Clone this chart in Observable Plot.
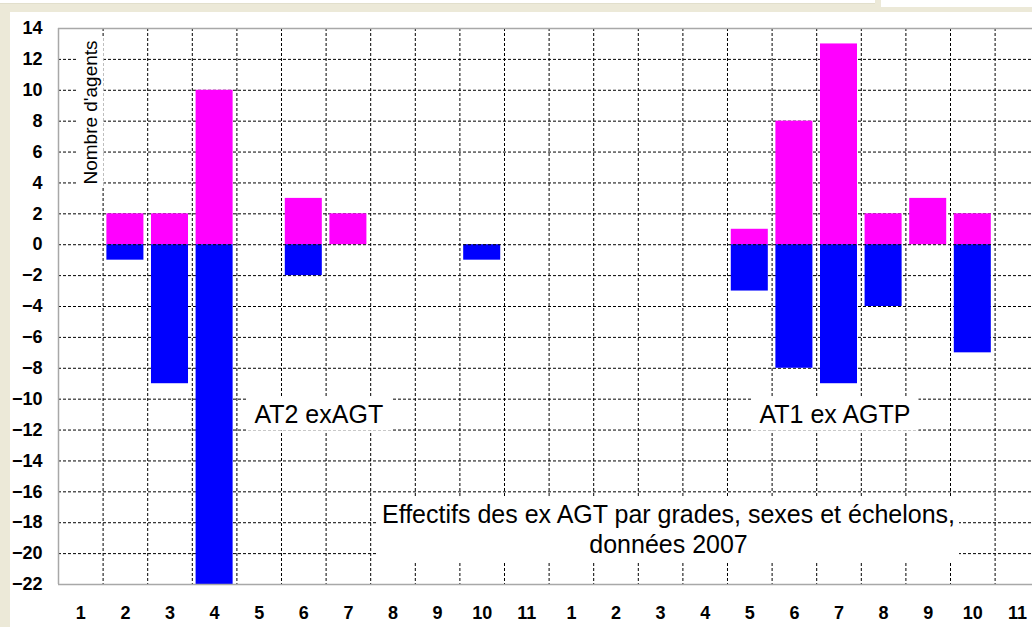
<!DOCTYPE html>
<html><head><meta charset="utf-8">
<script src="https://cdn.jsdelivr.net/npm/d3@7"></script>
<script src="https://cdn.jsdelivr.net/npm/@observablehq/plot@0.6"></script>
<style>
html,body{margin:0;padding:0;background:#ECE9D8;width:1032px;height:627px;overflow:hidden;}
#frame{position:absolute;left:10px;top:12px;width:1022px;height:615px;background:#fff;}
#topbox1{position:absolute;left:0;top:0;width:875px;height:3px;background:#fff;border-bottom:1px solid #e2dfcc;}
#topbox2{position:absolute;left:881px;top:0;width:151px;height:7px;background:#fff;}
#chart{position:absolute;left:0;top:0;}
</style></head><body>
<div id="frame"></div><div id="topbox1"></div><div id="topbox2"></div>
<div id="chart"></div>
<script>
// ---- data ----
const grades = ["AT2 exAGT", "AT1 ex AGTP"];
const echelons = ["1","2","3","4","5","6","7","8","9","10","11"];
const femmesAT2 = [0, 2, 2, 10, 0, 3, 2, 0, 0, 0, 0];
const hommesAT2 = [0, -1, -9, -22, 0, -2, 0, 0, 0, -1, 0];
const femmesAT1 = [0, 0, 0, 0, 1, 8, 13, 2, 3, 2, 0];
const hommesAT1 = [0, 0, 0, 0, -3, -8, -9, -4, 0, -7, 0];
const yTicks = [-22,-20,-18,-16,-14,-12,-10,-8,-6,-4,-2,0,2,4,6,8,10,12,14];
const yLabel = "Nombre d'agents";
const caption = "Effectifs des ex AGT par grades, sexes et échelons,\ndonnées 2007";

// ---- table ----
const femmes = [femmesAT2, femmesAT1];
const hommes = [hommesAT2, hommesAT1];
const rows = [];
grades.forEach((g, gi) => echelons.forEach((e, ei) => {
  rows.push({key: g + "|" + e, grade: g, echelon: e, f: femmes[gi][ei], h: hommes[gi][ei]});
}));
const keys = rows.map(r => r.key);

const x0 = 58, x1 = 1039.2;
const step = (x1 - x0) / keys.length;
const dash = {stroke: "#000", strokeDasharray: "3,2", strokeWidth: 1};
const gray = "#a8a8a8";

const chart = Plot.plot({
  width: 1032,
  height: 627,
  marginTop: 28,
  marginBottom: 43,
  marginLeft: 58,
  marginRight: 0,
  style: {background: "transparent", fontFamily: "Liberation Sans, Arial, sans-serif", fontSize: "18px", fontWeight: "bold", color: "#000"},
  x: {type: "band", domain: keys, range: [x0, x1], round: false, paddingInner: 0.17, paddingOuter: 0.085, align: 0.5,
      tickSize: 0, tickPadding: 22, tickFormat: d => d.split("|")[1], label: null},
  y: {domain: [-22, 14], ticks: yTicks, tickSize: 0, tickPadding: 16, label: null},
  marks: [
    Plot.ruleY(yTicks.filter(v => v > -22 && v < 14 && v !== 0), dash),
    Plot.ruleX(keys.slice(0, -1), {...dash, dx: step / 2}),
    Plot.barY(rows.filter(r => r.f !== 0), {x: "key", y: "f", fill: "#FF00FF"}),
    Plot.barY(rows.filter(r => r.h !== 0), {x: "key", y: "h", fill: "#0000FF"}),
    Plot.ruleY([0], dash),
    Plot.ruleY([14, -22], {stroke: gray, strokeWidth: 1.5}),
    Plot.ruleX([keys[0]], {stroke: gray, strokeWidth: 1.5, dx: -step / 2}),
    Plot.text([grades[0]], {x: () => grades[0] + "|6", y: -11, dx: 15, text: d => d, fontSize: 25, fontWeight: "normal", className: "lab"}),
    Plot.text([grades[1]], {x: () => grades[1] + "|7", y: -11, dx: -4, text: d => d, fontSize: 25, fontWeight: "normal", className: "lab"}),
    Plot.text([caption], {frameAnchor: "top-left", dx: 610, dy: 500, textAnchor: "middle", lineAnchor: "middle", text: d => d, fontSize: 25, lineHeight: 1.2, fontWeight: "normal", className: "cap"}),
    Plot.text([yLabel], {frameAnchor: "top-left", dx: 32, dy: 84, textAnchor: "middle", lineAnchor: "middle", rotate: -90, text: d => d, fontSize: 19, fontWeight: "normal", className: "ylab"})
  ]
});
document.getElementById("chart").appendChild(chart);

// white boxes behind annotation texts
function box(cls, px, py) {
  chart.querySelectorAll("g." + cls + " text").forEach(t => {
    const b = t.getBBox();
    const r = document.createElementNS("http://www.w3.org/2000/svg", "rect");
    r.setAttribute("x", b.x - px);
    r.setAttribute("y", b.y - py);
    r.setAttribute("width", b.width + 2 * px);
    r.setAttribute("height", b.height + 2 * py);
    r.setAttribute("fill", "#fff");
    if (t.getAttribute("transform")) r.setAttribute("transform", t.getAttribute("transform"));
    t.parentNode.insertBefore(r, t);
  });
}
box("lab", 8, 3);
box("cap", 4, 3);
box("ylab", 3, 3);
</script>
</body></html>
